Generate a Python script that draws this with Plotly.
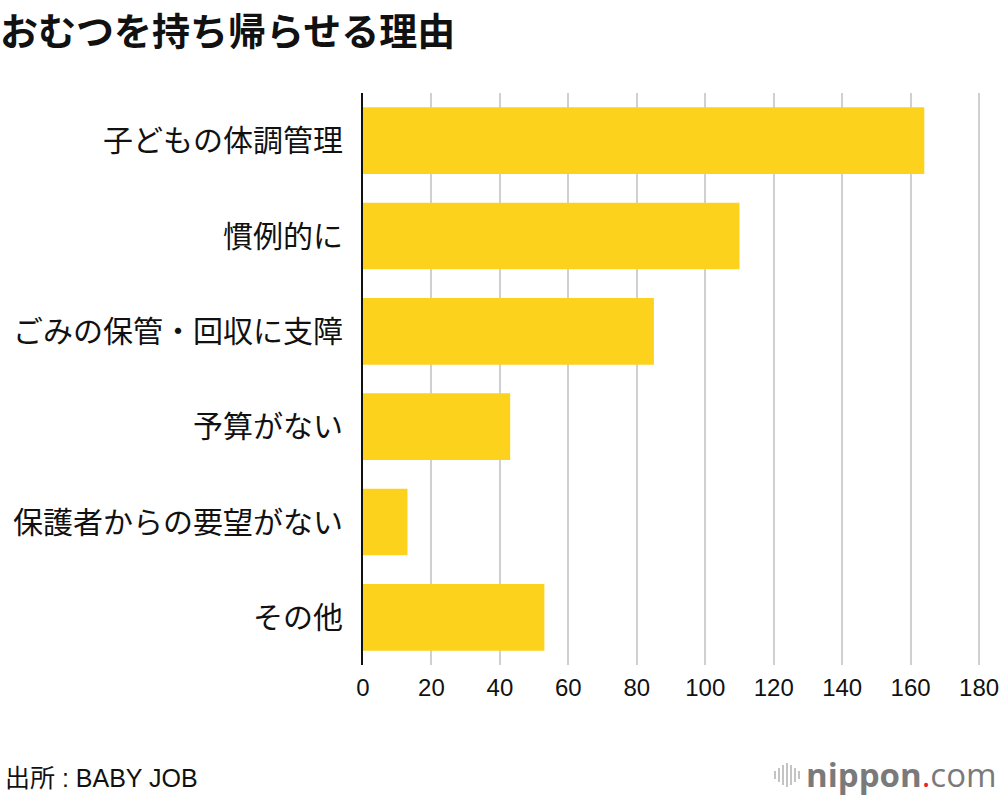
import plotly.graph_objects as go

categories = ["子どもの体調管理", "慣例的に", "ごみの保管・回収に支障", "予算がない", "保護者からの要望がない", "その他"]
values = [164, 110, 85, 43, 13, 53]
tick_vals = [0, 20, 40, 60, 80, 100, 120, 140, 160, 180]

title = "おむつを持ち帰らせる理由"
source = "出所 : BABY JOB"

FONT = "Noto Sans CJK JP"
NUMFONT = "Liberation Sans"

L, R, T, B = 363, 10, 93, 131
W, H = 1000, 796
PW, PH = W - L - R, H - T - B
bottom_px = H - B


def px_x(x):
    return (x - L) / PW


def px_y(y):
    return (bottom_px - y) / PH


fig = go.Figure(go.Bar(
    x=values,
    y=categories,
    orientation="h",
    marker=dict(color="#FDD21C", line=dict(width=0)),
    hoverinfo="x+y",
))

fig.update_layout(
    width=W, height=H,
    margin=dict(l=L, r=R, t=T, b=B, autoexpand=False),
    paper_bgcolor="white", plot_bgcolor="white",
    bargap=0.3,
    showlegend=False,
    font=dict(family=FONT, color="#111111"),
    annotations=[
        dict(text="<b>" + title + "</b>", x=px_x(-1), y=px_y(28), xref="paper", yref="paper",
             xanchor="left", yanchor="middle", borderpad=0,
             showarrow=False, font=dict(size=38, family=FONT, color="#111111")),
        dict(text=source, x=px_x(4), y=px_y(778), xref="paper", yref="paper",
             xanchor="left", yanchor="middle", borderpad=0,
             showarrow=False, font=dict(size=25, family="Liberation Sans, " + FONT, color="#111111")),
        dict(text="<b>nippon</b><span style='color:#e8202a'>.</span>com", x=px_x(998), y=px_y(774),
             xref="paper", yref="paper", xanchor="right", yanchor="middle", borderpad=0,
             showarrow=False, font=dict(size=33, family="Open Sans", color="#7a7a7a")),
    ],
)

# small bar icon next to logo (decoration, paper coords)
icon_x = [775, 779, 783, 787, 791, 795, 799]
icon_h = [8, 14, 20, 24, 20, 14, 8]
for xx, hh in zip(icon_x, icon_h):
    fig.add_shape(type="line", xref="paper", yref="paper",
                  x0=px_x(xx), x1=px_x(xx),
                  y0=px_y(775 + hh / 2), y1=px_y(775 - hh / 2),
                  line=dict(color="#c4c4c4", width=2))

fig.update_xaxes(
    range=[0, 183.2],
    tickvals=tick_vals,
    showgrid=True, gridcolor="#d0d0d0", gridwidth=2,
    zeroline=False, showline=False, automargin=False,
    ticks="", tickfont=dict(size=24, family=NUMFONT, color="#111111"),
    ticklabelstandoff=6,
    fixedrange=True,
)
fig.update_yaxes(
    autorange="reversed",
    showgrid=False, zeroline=False, automargin=False,
    showline=True, linecolor="#111111", linewidth=2,
    ticks="", tickfont=dict(size=30, family=FONT, color="#111111"),
    ticklabelstandoff=12,
    fixedrange=True,
)

fig.write_html(
    "out.html",
    config={"displayModeBar": False},
    post_script="document.body.style.margin='0';document.body.style.overflow='hidden';",
)
